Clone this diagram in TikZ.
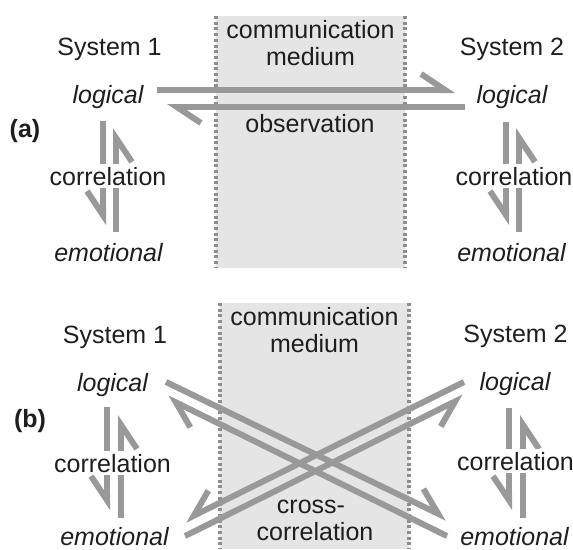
\documentclass[tikz,border=0pt]{standalone}
\usepackage{fontspec}
\setmainfont{Liberation Sans}
\usetikzlibrary{arrows.meta}
\definecolor{inkc}{HTML}{1E1E1E}
\definecolor{flowc}{HTML}{999999}
\definecolor{mediumc}{HTML}{E5E5E5}
\definecolor{edgec}{HTML}{8E8E8E}
\tikzset{
  txt/.style={anchor=base, inner sep=0pt, text=inkc, font=\fontsize{25}{27}\selectfont},
  itxt/.style={txt, font=\fontsize{25}{27}\selectfont\itshape},
  tag/.style={txt, font=\fontsize{25}{27}\selectfont\bfseries},
  masked/.style={txt, fill=white, inner xsep=1pt, inner ysep=3pt},
  medium/.style={fill=mediumc, draw=none},
  border/.style={draw=edgec, line width=3.2pt, dash pattern=on 3pt off 2.7pt},
  flow/.style={draw=flowc, line width=6pt},
  harpL/.style={flow, -{Straight Barb[left, length=24pt, width=32pt, sharp]}},
  harpR/.style={flow, -{Straight Barb[right, length=24pt, width=32pt, sharp]}},
}
\begin{document}
\begin{tikzpicture}[x=1pt, y=-1pt]
\useasboundingbox (0,0) rectangle (573,549);

% ---------- (a) logical channel only ----------
\fill[medium] (216,16) rectangle (405,268);
\draw[border] (216,16) -- (216,268);
\draw[border] (405,16) -- (405,268);

\node[txt] (medA) at (310.5,38) {communication};
\node[txt] (medA2) at (310.5,65) {medium};
\node[txt] (sysA1) at (109.5,55) {System 1};
\node[txt] (sysA2) at (512,55) {System 2};
\node[itxt] (logA1) at (108,103) {logical};
\node[itxt] (logA2) at (512,103) {logical};
\node[tag] (tagA) at (25,137) {(a)};
\node[txt] (obsA) at (310,132) {observation};
\node[itxt] (emoA1) at (108.5,261) {emotional};
\node[itxt] (emoA2) at (511.5,261) {emotional};

\coordinate (hA1s) at (157,90);  \coordinate (hA1t) at (455,90);
\coordinate (hA2s) at (465,107); \coordinate (hA2t) at (167,107);
\coordinate (vA1s) at (103,121); \coordinate (vA1t) at (103,225);
\coordinate (vA2s) at (116,232); \coordinate (vA2t) at (116,128);
\coordinate (vA3s) at (506,122); \coordinate (vA3t) at (506,225);
\coordinate (vA4s) at (519,232); \coordinate (vA4t) at (519,128);

\draw[harpL] (hA1s) -- (hA1t);
\draw[harpL] (hA2s) -- (hA2t);
\draw[harpR] (vA1s) -- (vA1t);
\draw[harpR] (vA2s) -- (vA2t);
\draw[harpR] (vA3s) -- (vA3t);
\draw[harpR] (vA4s) -- (vA4t);

% labels laid over the vertical arrows
\node[masked] (corA1) at (108,185) {correlation};
\node[masked] (corA2) at (514,185) {correlation};

% ---------- (b) crossed channels ----------
\fill[medium] (220,303) rectangle (409,549);
\draw[border] (220,303) -- (220,549);
\draw[border] (409,303) -- (409,549);

\node[txt] (medB) at (314.5,325) {communication};
\node[txt] (medB2) at (314.5,352) {medium};
\node[txt] (sysB1) at (115,343) {System 1};
\node[txt] (sysB2) at (515.5,342) {System 2};
\node[itxt] (logB1) at (112.5,391) {logical};
\node[itxt] (logB2) at (515,390) {logical};
\node[tag] (tagB) at (30,427) {(b)};
\node[itxt] (emoB1) at (114.5,545) {emotional};
\node[itxt] (emoB2) at (514.5,545) {emotional};
\node[txt] (crsB) at (311,513) {cross-};
\node[txt] (crsB2) at (315,540) {correlation};

\coordinate (dA1s) at (166,382); \coordinate (dA1t) at (447,518);
\coordinate (dA2s) at (447,536); \coordinate (dA2t) at (167,398);
\coordinate (dB1s) at (464,382); \coordinate (dB1t) at (185,520);
\coordinate (dB2s) at (185,536); \coordinate (dB2t) at (464,397);
\coordinate (vB1s) at (107,407); \coordinate (vB1t) at (107,510);
\coordinate (vB2s) at (121,518); \coordinate (vB2t) at (121,415);
\coordinate (vB3s) at (509,408); \coordinate (vB3t) at (509,510);
\coordinate (vB4s) at (523,518); \coordinate (vB4t) at (523,415);

\draw[harpL] (dA1s) -- (dA1t);
\draw[harpL] (dA2s) -- (dA2t);
\draw[harpR] (dB1s) -- (dB1t);
\draw[harpR] (dB2s) -- (dB2t);
\draw[harpR] (vB1s) -- (vB1t);
\draw[harpR] (vB2s) -- (vB2t);
\draw[harpR] (vB3s) -- (vB3t);
\draw[harpR] (vB4s) -- (vB4t);

% labels laid over the vertical arrows
\node[masked] (corB1) at (112.5,472) {correlation};
\node[masked] (corB2) at (515.5,470) {correlation};
\end{tikzpicture}
\end{document}
